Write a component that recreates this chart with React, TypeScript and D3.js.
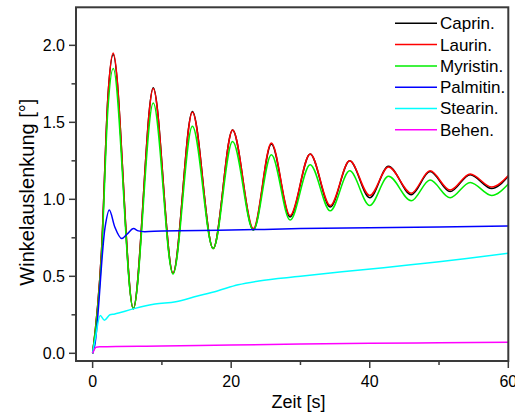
import React from "react";
import * as d3 from "d3";

// ---- data ----
const oscTimes = [0, 1.3, 2.2, 2.97, 5.87, 8.75, 11.6, 14.4, 17.4, 20.2, 23.2, 25.8, 28.5, 31.4, 34.3, 37.1, 40.0, 42.7, 46.0, 48.7, 51.6, 54.5, 57.6, 60];
const caprinValues = [0, 0.68, 1.66, 1.94, 0.29, 1.725, 0.52, 1.57, 0.68, 1.45, 0.80, 1.36, 0.885, 1.295, 0.95, 1.25, 1.01, 1.215, 1.03, 1.18, 1.05, 1.16, 1.07, 1.15];
const laurinValues = [0, 0.68, 1.66, 1.95, 0.29, 1.72, 0.52, 1.565, 0.68, 1.45, 0.81, 1.365, 0.895, 1.295, 0.96, 1.25, 1.025, 1.21, 1.04, 1.185, 1.06, 1.165, 1.08, 1.155];
const myristinValues = [0, 0.64, 1.58, 1.85, 0.29, 1.625, 0.515, 1.475, 0.68, 1.375, 0.80, 1.29, 0.865, 1.225, 0.925, 1.185, 0.96, 1.15, 0.99, 1.125, 1.01, 1.11, 1.025, 1.10];

const palmitinTimes = [0, 0.3, 1.8, 2.4, 3.2, 4.2, 5.0, 5.9, 6.6, 7.5, 10, 20, 30, 40, 50, 60];
const palmitinValues = [0, 0.05, 0.82, 0.93, 0.82, 0.745, 0.775, 0.81, 0.795, 0.79, 0.795, 0.80, 0.81, 0.815, 0.82, 0.827];

const stearinTimes = [0, 0.4, 1.1, 1.7, 2.5, 3.2, 4, 6, 9, 12, 15, 18, 21, 24, 30, 36, 42, 48, 54, 60];
const stearinValues = [0, 0.1, 0.245, 0.215, 0.25, 0.255, 0.265, 0.29, 0.32, 0.335, 0.37, 0.405, 0.445, 0.47, 0.5, 0.53, 0.555, 0.585, 0.615, 0.65];

const behenTimes = [0, 0.5, 1, 10, 20, 30, 40, 50, 60];
const behenValues = [0, 0.04, 0.042, 0.047, 0.054, 0.06, 0.065, 0.068, 0.071];

const seriesNames = ["Caprin.", "Laurin.", "Myristin.", "Palmitin.", "Stearin.", "Behen."];
const seriesColors = ["#000000", "#ff0000", "#00ee00", "#0000ff", "#00ffff", "#ff00ff"];

const xTicksMajor = [0, 20, 40, 60];
const xTicksMinor = [10, 30, 50];
const yTicksMajor = [0, 0.5, 1.0, 1.5, 2.0];
const yTicksMinor = [0.25, 0.75, 1.25, 1.75];

export default function App() {
  const left = 76, right = 508.3, top = 7.3, bottom = 361;
  const x = d3.scaleLinear().domain([-2.4, 60]).range([left, right]);
  const y = d3.scaleLinear().domain([-0.05, 2.247]).range([bottom, top]);
  const font = "'Liberation Sans', Arial, sans-serif";
  const axisColor = "#3a3a3a";

  const line = d3
    .line<[number, number]>()
    .x((d) => x(d[0]))
    .y((d) => y(d[1]))
    .curve(d3.curveMonotoneX);

  const zip = (t: number[], v: number[]) => t.map((tt, i) => [tt, v[i]] as [number, number]);
  const series = [
    zip(oscTimes, caprinValues),
    zip(oscTimes, laurinValues),
    zip(oscTimes, myristinValues),
    zip(palmitinTimes, palmitinValues),
    zip(stearinTimes, stearinValues),
    zip(behenTimes, behenValues),
  ];

  return (
    <svg width={515} height={415} style={{ position: "absolute", left: 0, top: 0, background: "#fff" }}>
      <defs>
        <clipPath id="plot">
          <rect x={left} y={top} width={right - left} height={bottom - top} />
        </clipPath>
      </defs>
      <g clipPath="url(#plot)">
        {series.map((s, i) => (
          <path key={i} d={line(s) || ""} fill="none" stroke={seriesColors[i]} strokeWidth={1.5} />
        ))}
      </g>
      {/* frame */}
      <rect x={left} y={top} width={right - left} height={bottom - top} fill="none" stroke={axisColor} strokeWidth={2} />
      {/* x ticks */}
      {xTicksMajor.map((t) => (
        <g key={"xm" + t}>
          <line x1={x(t)} x2={x(t)} y1={bottom} y2={bottom + 7} stroke={axisColor} strokeWidth={1.5} />
          <text x={x(t)} y={bottom + 26} textAnchor="middle" fontFamily={font} fontSize={16} fill="#000">
            {t}
          </text>
        </g>
      ))}
      {xTicksMinor.map((t) => (
        <line key={"xn" + t} x1={x(t)} x2={x(t)} y1={bottom} y2={bottom + 4} stroke={axisColor} strokeWidth={1.5} />
      ))}
      {/* y ticks */}
      {yTicksMajor.map((t) => (
        <g key={"ym" + t}>
          <line x1={left - 7} x2={left} y1={y(t)} y2={y(t)} stroke={axisColor} strokeWidth={1.5} />
          <text x={left - 11} y={y(t)} dy="0.35em" textAnchor="end" fontFamily={font} fontSize={16} fill="#000">
            {t.toFixed(1)}
          </text>
        </g>
      ))}
      {yTicksMinor.map((t) => (
        <line key={"yn" + t} x1={left - 4.5} x2={left} y1={y(t)} y2={y(t)} stroke={axisColor} strokeWidth={1.5} />
      ))}
      {/* axis titles */}
      <text x={(x(0) + x(60)) / 2 - 2} y={408} textAnchor="middle" fontFamily={font} fontSize={18} fill="#000">
        Zeit [s]
      </text>
      <text
        transform={`translate(34, ${(top + bottom) / 2 + 8}) rotate(-90)`}
        textAnchor="middle"
        fontFamily={font}
        fontSize={20}
        fill="#000"
      >
        Winkelauslenkung [°]
      </text>
      {/* legend */}
      {seriesNames.map((n, i) => {
        const ly = 23.3 + i * 21.3;
        return (
          <g key={n}>
            <line x1={395} x2={437} y1={ly} y2={ly} stroke={seriesColors[i]} strokeWidth={1.5} />
            <text x={440} y={ly} dy="0.35em" fontFamily={font} fontSize={17} fill="#000">
              {n}
            </text>
          </g>
        );
      })}
    </svg>
  );
}
